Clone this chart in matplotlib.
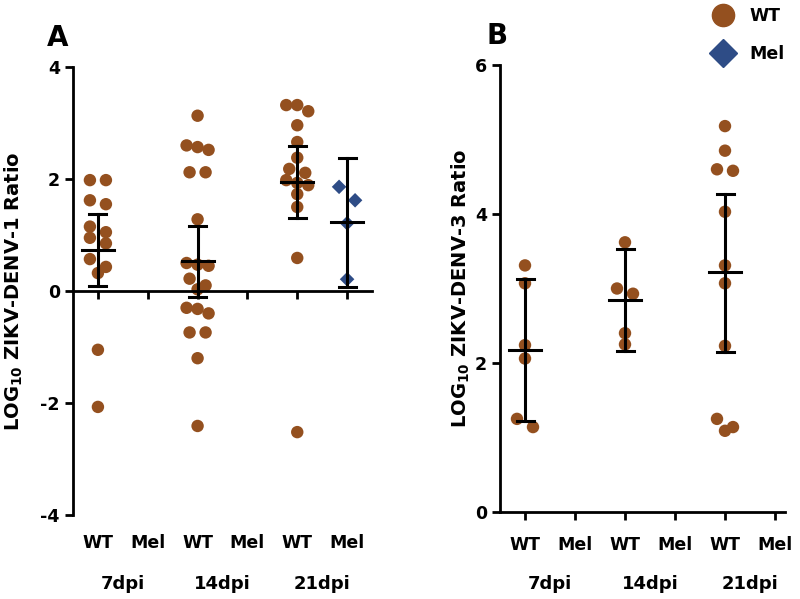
import numpy as np
import matplotlib
matplotlib.use('Agg')
import matplotlib.pyplot as plt
from matplotlib.lines import Line2D
from matplotlib.transforms import blended_transform_factory

plt.rcParams['font.family'] = 'DejaVu Sans'
plt.rcParams['font.weight'] = 'bold'
plt.rcParams['mathtext.fontset'] = 'custom'
plt.rcParams['mathtext.rm'] = 'DejaVu Sans:bold'
plt.rcParams['mathtext.default'] = 'rm'

# Categories on the x axis (WT / Mel for each time point).
groups = ['WT', 'Mel', 'WT', 'Mel', 'WT', 'Mel']
days = ['7dpi', '14dpi', '21dpi']

# Panel A: LOG10 ZIKV-DENV-1 ratio, per group.
a_wt_7 = [1.98, 1.98, 1.62, 1.55, 1.15, 1.05, 0.95, 0.85, 0.57, 0.43, 0.32, -1.05, -2.07]
a_wt_14 = [3.13, 2.60, 2.57, 2.52, 2.12, 2.12, 1.28, 0.50, 0.47, 0.45, 0.22, 0.10, 0.03,
           -0.30, -0.32, -0.40, -0.74, -0.74, -1.20, -2.41]
a_wt_21 = [3.32, 3.32, 3.21, 2.96, 2.66, 2.38, 2.18, 2.11, 1.98, 1.93, 1.89, 1.73, 1.50,
           0.59, -2.52]
a_mel_21 = [1.86, 1.62, 1.21, 0.21]
a_wt_mean = [0.73, 0.54, 1.95]
a_wt_lo = [0.09, -0.10, 1.30]
a_wt_hi = [1.375, 1.16, 2.59]
a_mel_mean = [1.23]
a_mel_lo = [0.07]
a_mel_hi = [2.38]

# Panel B: LOG10 ZIKV-DENV-3 ratio.
b_wt_7 = [3.31, 3.07, 2.24, 2.06, 1.25, 1.14]
b_wt_14 = [3.62, 3.00, 2.93, 2.40, 2.25]
b_wt_21 = [5.18, 4.85, 4.60, 4.58, 4.03, 3.31, 3.07, 2.23, 1.25, 1.14, 1.09]
b_wt_mean = [2.17, 2.85, 3.22]
b_wt_lo = [1.22, 2.16, 2.15]
b_wt_hi = [3.13, 3.53, 4.27]

brown = '#94501f'
blue = '#2e4c86'


def swarm_x(ax, center, values, row_px=9.0):
    # GraphPad-like scatter: points close in y share a row and are spread evenly
    order = list(np.argsort(values)[::-1])
    ypix = [ax.transData.transform((center, v))[1] for v in values]
    cx = ax.transData.transform((center, 0))[0]
    rows = []
    for i in order:
        if rows and abs(ypix[rows[-1][0]] - ypix[i]) < row_px:
            rows[-1].append(i)
        else:
            rows.append([i])
    xs = [center] * len(values)
    for row in rows:
        n = len(row)
        gap = 16.0 if n == 2 else 11.0
        for j, i in enumerate(row):
            px = cx + (j - (n - 1) / 2) * gap
            xs[i] = ax.transData.inverted().transform((px, ypix[i]))[0]
    return xs


def draw_group(ax, center, values, mean, lo, hi, color, marker, size, row_px=9.0):
    xs = swarm_x(ax, center, values, row_px=row_px)
    ax.scatter(xs, values, s=size, color=color, marker=marker, edgecolors='none', zorder=2)
    ax.plot([center, center], [lo, hi], color='black', lw=2.2, zorder=3)
    ax.plot([center - 0.17, center + 0.17], [lo, lo], color='black', lw=2.2, zorder=3)
    ax.plot([center - 0.17, center + 0.17], [hi, hi], color='black', lw=2.2, zorder=3)
    ax.plot([center - 0.32, center + 0.32], [mean, mean], color='black', lw=2.2, zorder=3)


def style_axis(ax, label_y):
    ax.spines['top'].set_visible(False)
    ax.spines['right'].set_visible(False)
    ax.spines['left'].set_linewidth(2)
    ax.spines['bottom'].set_linewidth(2)
    ax.tick_params(axis='both', width=2, length=6, direction='out', labelsize=12.5)
    ax.set_xticks(range(6))
    ax.set_xticklabels([])
    trans = blended_transform_factory(ax.transData, fig.transFigure)
    for i, g in enumerate(groups):
        ax.text(i, label_y, g, transform=trans, ha='center', va='center', fontsize=12.5,
                fontweight='bold')
    for j, d in enumerate(days):
        ax.text(2 * j + 0.5, 1 - 584 / 599, d, transform=trans, ha='center', va='center',
                fontsize=13, fontweight='bold')


fig = plt.figure(figsize=(8, 5.99), dpi=100)

# Panel A
axA = fig.add_axes([73 / 800, 84 / 599, 299 / 800, 448 / 599])
axA.set_xlim(-0.5, 5.5)
axA.set_ylim(-4, 4)
axA.set_yticks([-4, -2, 0, 2, 4])
axA.set_yticklabels(['-4', '-2', '0', '2', '4'])
axA.spines['bottom'].set_position(('data', 0))
style_axis(axA, 1 - 543 / 599)
draw_group(axA, 0, a_wt_7, a_wt_mean[0], a_wt_lo[0], a_wt_hi[0], brown, 'o', 80)
draw_group(axA, 2, a_wt_14, a_wt_mean[1], a_wt_lo[1], a_wt_hi[1], brown, 'o', 80)
draw_group(axA, 4, a_wt_21, a_wt_mean[2], a_wt_lo[2], a_wt_hi[2], brown, 'o', 80)
draw_group(axA, 5, a_mel_21, a_mel_mean[0], a_mel_lo[0], a_mel_hi[0], blue, 'D', 55,
           row_px=15.0)
axA.set_ylabel(r'LOG$_{10}$ ZIKV-DENV-1 Ratio', fontsize=14, fontweight='bold')
axA.yaxis.set_label_coords((25 - 73) / 299, 0.5)
fig.text(58 / 800, 1 - 38 / 599, 'A', fontsize=20, fontweight='bold', ha='center', va='center')

# Panel B
axB = fig.add_axes([500 / 800, 87 / 599, 285 / 800, 447 / 599])
axB.set_xlim(-0.5, 5.2)
axB.set_ylim(0, 6)
axB.set_yticks([0, 2, 4, 6])
style_axis(axB, 1 - 545 / 599)
draw_group(axB, 0, b_wt_7, b_wt_mean[0], b_wt_lo[0], b_wt_hi[0], brown, 'o', 80)
draw_group(axB, 2, b_wt_14, b_wt_mean[1], b_wt_lo[1], b_wt_hi[1], brown, 'o', 80)
draw_group(axB, 4, b_wt_21, b_wt_mean[2], b_wt_lo[2], b_wt_hi[2], brown, 'o', 80)
axB.set_ylabel(r'LOG$_{10}$ ZIKV-DENV-3 Ratio', fontsize=14, fontweight='bold')
axB.yaxis.set_label_coords((472 - 500) / 285, 0.5)
fig.text(497 / 800, 1 - 36 / 599, 'B', fontsize=20, fontweight='bold', ha='center', va='center')

# Legend
handles = [Line2D([], [], ls='none', marker='o', color=brown, markersize=16),
           Line2D([], [], ls='none', marker='D', color=blue, markersize=14)]
fig.legend(handles, ['WT', 'Mel'], loc='upper left', bbox_to_anchor=(690 / 800, 1.015),
           frameon=False, handletextpad=0.5, labelspacing=1.15,
           prop={'weight': 'bold', 'size': 12.5})

fig.savefig('out.png', dpi=100)
